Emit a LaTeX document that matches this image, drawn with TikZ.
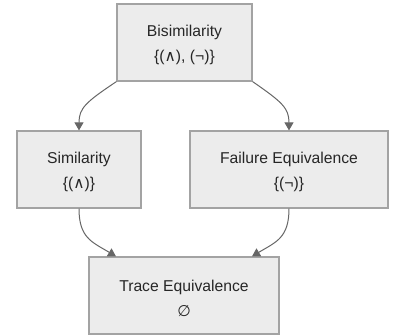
\documentclass[tikz,border=0pt]{standalone}
\usepackage{fontspec}
\setmainfont{Liberation Sans}
\newfontfamily\symfont{DejaVu Sans}
\usetikzlibrary{arrows.meta}
\definecolor{boxfill}{HTML}{ECECEC}
\definecolor{boxline}{HTML}{A3A3A3}
\definecolor{edgecol}{HTML}{666666}
\tikzset{
  box/.style={draw=boxline, fill=boxfill, line width=1.2pt, align=center, inner sep=0pt,
    font=\fontsize{15.7}{25}\selectfont, text=black!85},
  edge/.style={draw=edgecol, line width=1pt, -{Triangle[width=9pt,length=8pt]}}
}
\newcommand{\sy}[1]{{\symfont\fontsize{15.5}{25}\selectfont #1}}
\newcommand{\tp}{\rule{0pt}{17pt}}
\begin{document}
\begin{tikzpicture}[x=1pt,y=-1pt]
\useasboundingbox (0,0) rectangle (394,336);
\node[box, minimum width=135pt, minimum height=77pt] (b) at (184.5,42.5) {\tp Bisimilarity\\\{(\sy{∧}), (¬)\}};
\node[box, minimum width=124pt, minimum height=77pt] (s) at (79,169.5) {\tp Similarity\\\{(\sy{∧})\}};
\node[box, minimum width=198pt, minimum height=77pt] (f) at (289,169.5) {\tp Failure Equivalence\\\{(¬)\}};
\node[box, minimum width=190pt, minimum height=77pt] (t) at (184,295.5) {\tp Trace Equivalence\\\sy{∅}};
\draw[edge] (b.south west) .. controls (86,102) and (79,108) .. (s.north);
\draw[edge] (b.south east) .. controls (282,102) and (289,108) .. (f.north);
\draw[edge] (s.south) .. controls (79,238) and (92,242) .. (t.north west -| 116,0);
\draw[edge] (f.south) .. controls (289,238) and (276,242) .. (t.north west -| 252,0);
\end{tikzpicture}
\end{document}
